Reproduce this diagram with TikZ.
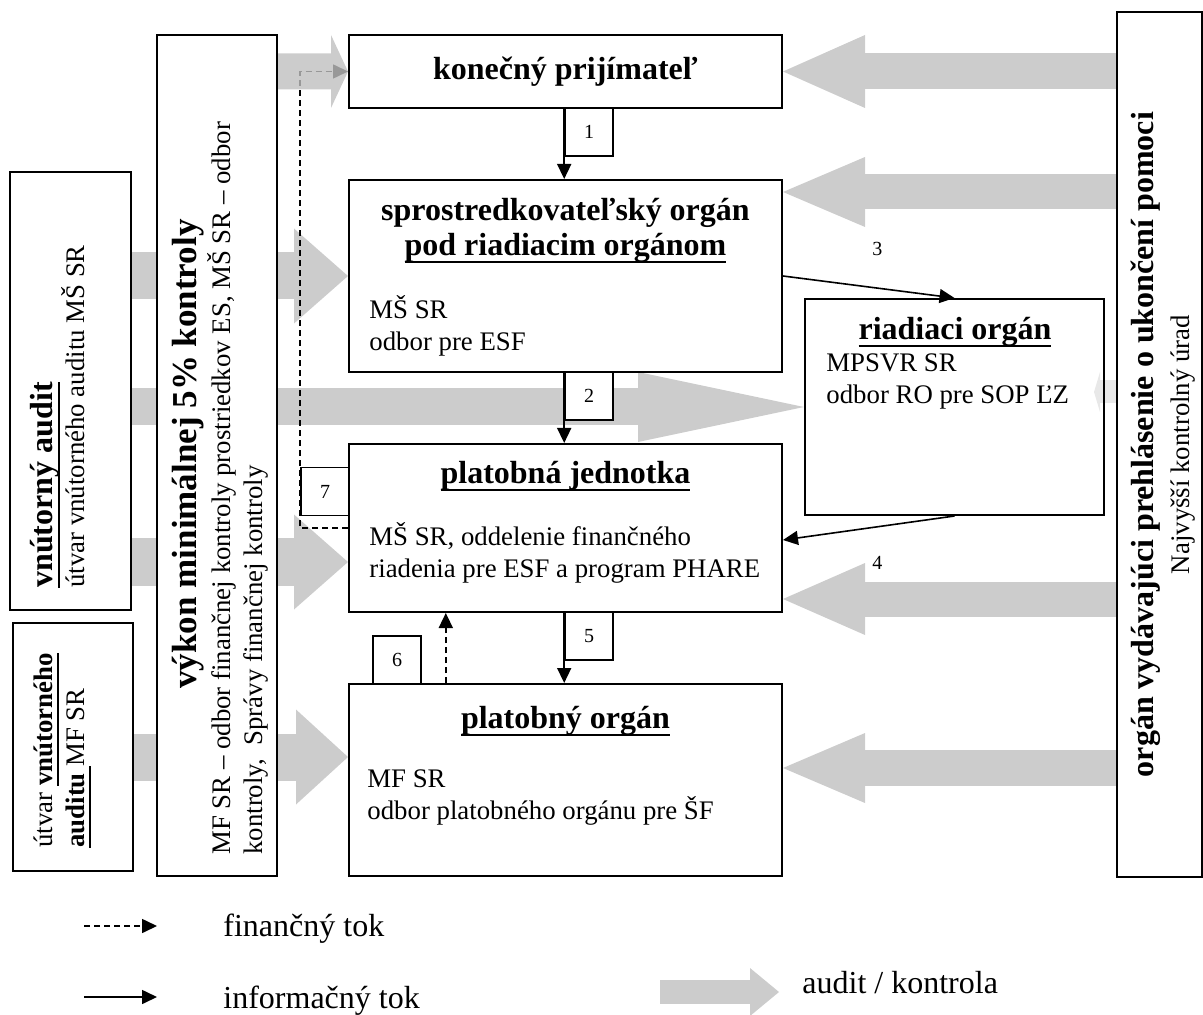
\documentclass[tikz,border=0pt]{standalone}
\usepackage{fontspec}
\setmainfont{Liberation Serif}
\usetikzlibrary{arrows.meta, backgrounds}

\newcommand{\ul}[1]{\setbox0=\hbox{#1}\rlap{\rule[-3.6pt]{\wd0}{1.1pt}}\box0}

\tikzset{
  box/.style={draw, line width=1pt, fill=white, inner sep=0pt},
  num/.style={inner sep=0pt, font=\fontsize{10}{12}\selectfont},
  numbox/.style={num, draw, line width=0.8pt, fill=white, minimum size=24pt},
  head/.style={inner sep=0pt, font=\fontsize{16}{17.5}\selectfont\bfseries},
  body/.style={inner sep=0pt, align=left, font=\fontsize{13.4}{16}\selectfont},
  legend/.style={inner sep=0pt, font=\fontsize{16}{18}\selectfont},
  info/.style={line width=0.8pt, -{Triangle[length=7.5pt, width=7pt]}},
  fin/.style={info, dash pattern=on 3pt off 2pt},
  audit/.style n args={3}{color=black!20, line width=#1,
    -{Triangle[length=#2, width=#3, line width=0pt]}}
}

\begin{document}
\begin{tikzpicture}[x=0.5pt, y=-0.5pt]
  \useasboundingbox (0,0) rectangle (1203,1015);

  \node[box, minimum width=216.5pt, minimum height=36.5pt] (kp) at (565.5,71.5) {};
  \node[box, minimum width=216.5pt, minimum height=96pt] (so) at (565.5,276) {};
  \node[box, minimum width=216.5pt, minimum height=84pt] (pj) at (565.5,528) {};
  \node[box, minimum width=216.5pt, minimum height=96pt] (po) at (565.5,780) {};
  \node[box, fill=none, minimum width=149.5pt, minimum height=108pt] (ro) at (954.5,407) {};
  \node[box, minimum width=42.5pt, minimum height=432.5pt] (nku) at (1159.5,444.5) {};
  \node[box, minimum width=60.5pt, minimum height=219pt] (va) at (70.5,391) {};
  \node[box, minimum width=60pt, minimum height=124pt] (vamf) at (73,747) {};
  \node[box, minimum width=60pt, minimum height=420.5pt] (vk) at (217,455.5) {};

  \node[numbox] (n1) at (589,132) {1};
  \node[numbox] (n2) at (589,396) {2};
  \node[numbox] (n5) at (589,636) {5};
  \node[numbox] (n6) at (397,660) {6};
  \node[numbox] (n7) at (325,491.5) {7};

  \node[head] at (kp) {konečný prijímateľ};
  \node[head, align=center, anchor=north] at (565.5,198)
    {sprostredkovateľský orgán\\\ul{pod riadiacim orgánom}};
  \node[body, anchor=north west] at (369,295) {MŠ SR\\odbor pre ESF};
  \node[head, anchor=north] at (565.5,461) {\ul{platobná jednotka}};
  \node[body, anchor=north west] at (369,522)
    {MŠ SR, oddelenie finančného\\riadenia pre ESF a program PHARE};
  \node[head, anchor=north] at (565.5,706) {\ul{platobný orgán}};
  \node[body, anchor=north west] at (367,769) {MF SR\\odbor platobného orgánu pre ŠF};
  \node[head, anchor=north] at (955,317) {\ul{riadiaci orgán}};
  \node[body, anchor=north west] at (826,353) {MPSVR SR\\odbor RO pre SOP ĽZ};

  \node[body, rotate=90, anchor=north west] at (30,588)
    {{\fontsize{16}{16}\selectfont\bfseries\ul{vnútorný audit}}\\útvar vnútorného auditu MŠ SR};
  \node[body, rotate=90, anchor=north west] at (33,848)
    {útvar \textbf{\ul{vnútorného}}\\\textbf{\ul{auditu\ }}MF SR};
  \node[head, rotate=90, font=\fontsize{17.5}{20}\selectfont\bfseries] at (188,454)
    {výkon minimálnej 5\% kontroly};
  \node[body, rotate=90, anchor=north west] at (207,855)
    {MF SR – odbor finančnej kontroly prostriedkov ES, MŠ SR – odbor\\kontroly,~ Správy finančnej kontroly};
  \node[inner sep=0pt, rotate=90, align=center, font=\fontsize{13.4}{18}\selectfont] at (1163,444.5)
    {{\fontsize{16}{18}\selectfont\bfseries orgán vydávajúci prehlásenie o ukončení pomoci}\\Najvyšší kontrolný úrad};

  \coordinate (pjin) at ([yshift=-17pt]pj.west);
  \coordinate (poin) at ([yshift=11.5pt]po.west);
  \coordinate (soin) at ([yshift=42pt]so.east);
  \coordinate (roin) at ([xshift=-5.5pt, yshift=7.5pt]ro.east);
  \coordinate (pjin2) at ([yshift=-35.5pt]pj.east);
  \coordinate (poin2) at ([yshift=6pt]po.east);
  \coordinate (pjr) at ([yshift=-6pt]pj.east);
  \coordinate (f6) at ([xshift=12pt]n6.east);

  \begin{pgfonlayer}{background}
    \draw[audit={23.5pt}{27pt}{47.5pt}] (va.east |- so.west) -- (so.west);
    \draw[audit={18.5pt}{83pt}{35pt}] (va.east |- ro.west) -- (ro.west);
    \draw[audit={24pt}{27pt}{47.5pt}] (va.east |- pjin) -- (pjin);
    \draw[audit={23.5pt}{26pt}{47.5pt}] (vamf.east |- poin) -- (poin);
    \draw[audit={18pt}{41pt}{36.5pt}] (nku.west |- kp.east) -- (kp.east);
    \draw[audit={17.5pt}{41pt}{35pt}] (nku.west |- soin) -- (soin);
    \draw[audit={11.5pt}{3pt}{20pt}, color=black!9] (nku.west |- roin) -- (roin);
    \draw[audit={17.5pt}{41pt}{36pt}] (nku.west |- pjin2) -- (pjin2);
    \draw[audit={18pt}{41pt}{35pt}] (nku.west |- poin2) -- (poin2);
  \end{pgfonlayer}

  \draw[info] (kp.south -| n1.west) -- (so.north -| n1.west);
  \draw[info] (so.south -| n2.west) -- (pj.north -| n2.west);
  \draw[info] (pj.south -| n5.west) -- (po.north -| n5.west);
  \draw[info] (so.east) -- node[num, pos=0.55, above=16pt] {3} (ro.north);
  \draw[info] (ro.south) -- node[num, pos=0.45, below=14.5pt] {4} (pjr);
  \draw[fin] (po.north -| f6) -- (pj.south -| f6);
  \draw[fin] (pj.west) -| (n7.west |- kp.west) -- (kp.west);

  \begin{scope}[transparency group, opacity=0.8]
    \draw[audit={18pt}{8.5pt}{36.5pt}, color=black!25] (vk.east |- kp.west) -- (kp.west);
  \end{scope}

  \node[legend, anchor=west] (lfin) at (223,929) {finančný tok};
  \node[legend, anchor=west] (linf) at (223,1001) {informačný tok};
  \node[legend, anchor=west] (laud) at (802,983) {audit / kontrola};
  \draw[fin] ([xshift=-69.5pt, yshift=1.5pt]lfin.west) -- ([xshift=-33pt, yshift=1.5pt]lfin.west);
  \draw[info] ([xshift=-69.5pt, yshift=2pt]linf.west) -- ([xshift=-33pt, yshift=2pt]linf.west);
  \draw[audit={12pt}{14.5pt}{24pt}] ([xshift=-71pt, yshift=-4.5pt]laud.west) -- ([xshift=-11.5pt, yshift=-4.5pt]laud.west);
\end{tikzpicture}
\end{document}
